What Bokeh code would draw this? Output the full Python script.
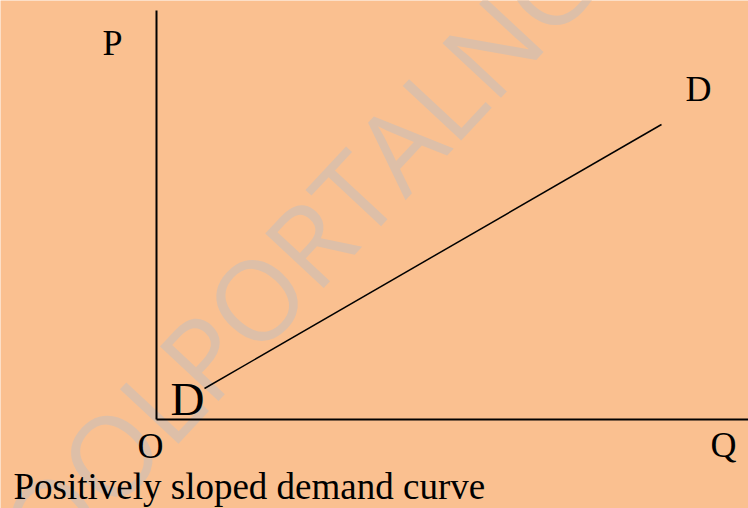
from bokeh.plotting import figure
from bokeh.models import Range1d
from bokeh.core.properties import value
from bokeh.embed import file_html
from bokeh.resources import INLINE
import math

# ---- data (arbitrary quantity / price units, origin at O) ----
demand_q = [48, 505]          # quantity at the two ends of the D-D line
demand_p = [31, 295]          # price at the two ends of the D-D line
axis_p_top = 409              # top of the price axis
axis_q_end = 592              # right end of the quantity axis

label_text = ["P", "D", "O", "Q"]
label_x = [-44, 542, -6, 567]
label_y = [377, 331, -26, -25]

big_label_text = ["D"]
big_label_x = [14]
big_label_y = [21]

caption_text = ["Positively sloped demand curve"]
caption_x = [-143]
caption_y = [-67]

watermark_text = ["SCHOOLPORTALNG"]
watermark_x = [68]
watermark_y = [89]

BG = "#FAC090"

p = figure(width=748, height=508,
           x_range=Range1d(-156, 592), y_range=Range1d(-89, 419),
           output_backend="svg", toolbar_location=None,
           x_axis_location=None, y_axis_location=None, min_border=0)
p.grid.visible = False
p.outline_line_color = None
p.background_fill_color = BG
p.border_fill_color = BG

# watermark
p.text(x=watermark_x, y=watermark_y, text=watermark_text,
       angle=math.radians(47), text_font=value("Open Sans"),
       text_font_size="112px", text_color="#DDBFA8",
       text_align="center", text_baseline="alphabetic")

# axes
p.segment(x0=[0, 0], y0=[0, 0], x1=[0, axis_q_end], y1=[axis_p_top, 0],
          line_color="black", line_width=2)

# demand curve
p.line(x=demand_q, y=demand_p, line_color="black", line_width=1.5)

# labels
p.text(x=label_x, y=label_y, text=label_text,
       text_font=value("Liberation Serif"), text_font_size="36px",
       text_color="black", text_align="center", text_baseline="alphabetic")
p.text(x=big_label_x, y=big_label_y, text=big_label_text,
       text_font=value("Liberation Serif"), text_font_size="47px",
       text_color="black", text_align="left", text_baseline="alphabetic")
p.text(x=caption_x, y=caption_y, text=caption_text,
       text_font=value("Liberation Serif"), text_font_size="37px",
       text_color="black", text_align="left", text_baseline="alphabetic")

html = file_html(p, INLINE)
html = html.replace("<body>", '<body style="background-color:%s">' % BG, 1)
open("out.html", "w").write(html)
